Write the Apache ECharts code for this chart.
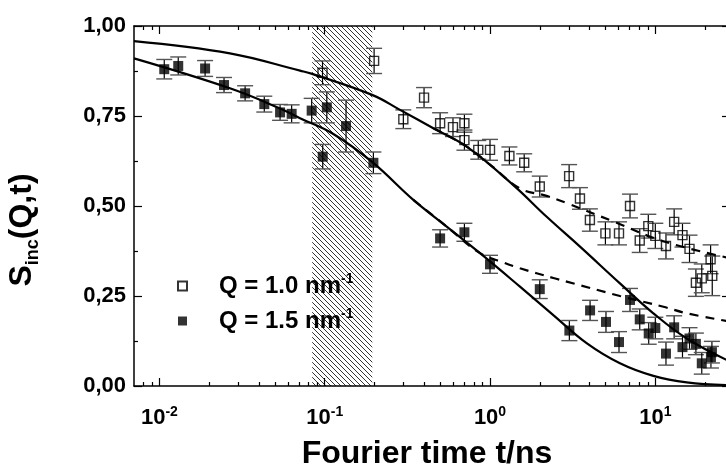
<!DOCTYPE html>
<html>
<head>
<meta charset="utf-8">
<script src="https://cdn.jsdelivr.net/npm/echarts@6/dist/echarts.min.js"></script>
<style>
html, body { margin: 0; background: #fff; }
#chart { width: 726px; height: 470px; }
</style>
</head>
<body>
<div id="chart"></div>
<script>
// Q = 1.0 nm^-1 (open squares)
const t1 = [0.097, 0.199, 0.299, 0.399, 0.499, 0.597, 0.70, 0.70, 0.849, 1.0, 1.31, 1.61, 2.0, 3.01, 3.5, 4.02, 4.99, 6.03, 7.03, 8.05, 9.07, 10.0, 11.6, 13.0, 14.6, 16.1, 17.6, 19.1, 21.6, 22.1];
const s1 = [0.870, 0.903, 0.741, 0.801, 0.730, 0.719, 0.730, 0.683, 0.656, 0.656, 0.639, 0.620, 0.554, 0.583, 0.521, 0.461, 0.424, 0.424, 0.500, 0.404, 0.444, 0.417, 0.389, 0.456, 0.419, 0.381, 0.287, 0.299, 0.352, 0.306];
const e1 = [0.033, 0.035, 0.026, 0.028, 0.029, 0.026, 0.025, 0.028, 0.026, 0.029, 0.025, 0.025, 0.029, 0.032, 0.030, 0.031, 0.032, 0.032, 0.033, 0.033, 0.033, 0.035, 0.036, 0.036, 0.033, 0.038, 0.038, 0.040, 0.040, 0.055];

// Q = 1.5 nm^-1 (filled squares)
const t2 = [0.0107, 0.0130, 0.0189, 0.0246, 0.0330, 0.0431, 0.0537, 0.0631, 0.0834, 0.0973, 0.103, 0.1346, 0.197, 0.499, 0.70, 1.0, 2.0, 3.02, 4.03, 5.03, 6.03, 7.03, 8.05, 9.12, 10.0, 11.6, 13.0, 14.6, 16.1, 17.6, 19.1, 21.7, 22.0];
const s2 = [0.880, 0.889, 0.882, 0.836, 0.813, 0.783, 0.760, 0.756, 0.765, 0.637, 0.774, 0.722, 0.620, 0.410, 0.427, 0.338, 0.269, 0.154, 0.210, 0.178, 0.122, 0.239, 0.185, 0.146, 0.161, 0.090, 0.163, 0.108, 0.132, 0.117, 0.063, 0.080, 0.094];
const e2 = [0.027, 0.025, 0.022, 0.021, 0.021, 0.022, 0.022, 0.025, 0.034, 0.034, 0.043, 0.072, 0.030, 0.024, 0.025, 0.025, 0.026, 0.028, 0.028, 0.029, 0.029, 0.032, 0.029, 0.030, 0.030, 0.032, 0.032, 0.030, 0.030, 0.030, 0.030, 0.030, 0.030];

// fit curves
const fitT1 = [0.00702, 0.0267, 0.0709, 0.084, 0.195, 0.2856, 0.454, 0.723, 1.383, 2.203, 3.503, 6.11, 9.73, 15.49, 28.3];
const fitS1 = [0.958, 0.924, 0.876, 0.867, 0.808, 0.767, 0.716, 0.665, 0.558, 0.470, 0.387, 0.285, 0.202, 0.132, 0.068];
const fitT2 = [0.00702, 0.0267, 0.0537, 0.0709, 0.1128, 0.195, 0.3437, 0.547, 0.870, 1.518, 2.415, 3.84, 6.11, 9.73, 15.49, 28.3];
const fitS2 = [0.910, 0.827, 0.771, 0.744, 0.700, 0.621, 0.517, 0.443, 0.369, 0.276, 0.197, 0.119, 0.063, 0.028, 0.010, 0.002];
const dashT1 = [0.454, 0.723, 1.0, 1.518, 2.2, 2.91, 5.57, 11.2, 28.3];
const dashS1 = [0.716, 0.665, 0.615, 0.549, 0.528, 0.508, 0.457, 0.402, 0.355];
const dashT2 = [0.3437, 0.547, 0.870, 1.204, 1.518, 2.415, 2.91, 6.11, 11.2, 15.5, 28.3];
const dashS2 = [0.517, 0.443, 0.369, 0.343, 0.327, 0.300, 0.290, 0.250, 0.220, 0.202, 0.179];

const hatchRange = [0.084, 0.194];
const xMin = 0.00702, xMax = 28.3;
const majorTicks = [0.01, 0.1, 1, 10];
const minorTicks = [0.008, 0.009, 0.02, 0.03, 0.04, 0.05, 0.06, 0.07, 0.08, 0.09,
  0.2, 0.3, 0.4, 0.5, 0.6, 0.7, 0.8, 0.9, 2, 3, 4, 5, 6, 7, 8, 9, 20];

const FONT = '"Liberation Sans", Arial, sans-serif';

function hatch() {
    const c = document.createElement('canvas');
    c.width = 5; c.height = 5;
    const ctx = c.getContext('2d');
    ctx.strokeStyle = '#000';
    ctx.lineWidth = 0.8;
    ctx.beginPath();
    ctx.moveTo(-1, -1); ctx.lineTo(6, 6);
    ctx.moveTo(-1, 4); ctx.lineTo(1, 6);
    ctx.moveTo(4, -1); ctx.lineTo(6, 1);
    ctx.stroke();
    return c;
}

const lg = v => Math.log10(v);

// tick-only axes in log space, series live on the log axis
function tickAxis(pos, vals, len, labels) {
    return {
        type: 'value', position: pos,
        min: lg(xMin), max: lg(xMax),
        axisLine: { show: false, onZero: false },
        splitLine: { show: false },
        axisTick: { show: true, inside: true, length: len, customValues: vals.map(lg),
            lineStyle: { color: '#000', width: 1.2 } },
        axisLabel: labels ? {
            show: true, customValues: vals.map(lg), margin: 19,
            formatter: v => '{b|10}{s|' + Math.round(v) + '}',
            rich: {
                b: { fontSize: 22, fontWeight: 'bold', fontFamily: FONT, color: '#000', lineHeight: 26 },
                s: { fontSize: 14, fontWeight: 'bold', fontFamily: FONT, color: '#000', verticalAlign: 'top', lineHeight: 12 }
            }
        } : { show: false }
    };
}

function errorBars(ts, ss, es) {
    return {
        type: 'custom',
        data: ts.map((t, i) => [t, ss[i], es[i]]),
        silent: true,
        z: 3,
        renderItem: (params, api) => {
            const x = api.value(0), y = api.value(1), e = api.value(2);
            const top = api.coord([x, y + e]);
            const bot = api.coord([x, y - e]);
            const hw = 8;
            const st = { stroke: '#000', lineWidth: 1.2 };
            const cap = { stroke: '#555', lineWidth: 1.4 };
            return {
                type: 'group',
                children: [
                    { type: 'line', shape: { x1: top[0], y1: top[1], x2: bot[0], y2: bot[1] }, style: st },
                    { type: 'line', shape: { x1: top[0] - hw, y1: top[1], x2: top[0] + hw, y2: top[1] }, style: cap },
                    { type: 'line', shape: { x1: bot[0] - hw, y1: bot[1], x2: bot[0] + hw, y2: bot[1] }, style: cap }
                ]
            };
        }
    };
}

function curve(ts, ss, dashed) {
    return {
        type: 'line', smooth: 0.4, symbol: 'none', silent: true, z: 4,
        data: ts.map((t, i) => [t, ss[i]]),
        lineStyle: { color: '#000', width: 2.2, type: dashed ? [9, 7] : 'solid' }
    };
}

const chart = echarts.init(document.getElementById('chart'));
const option = {
    backgroundColor: '#fff',
    animation: false,
    grid: { left: 134, top: 26, right: -4, bottom: 84, containLabel: false, outerBoundsMode: 'none' },
    legend: {
        orient: 'vertical', left: 177, top: 272, padding: 0,
        itemWidth: 9, itemHeight: 9, itemGap: 9,
        data: ['Q1', 'Q2'],
        formatter: n => n === 'Q1' ? '{g| }{a|Q = 1.0 nm}{s|-1}' : '{g| }{a|Q = 1.5 nm}{s|-1}',
        textStyle: {
            rich: {
                g: { width: 27 },
                a: { fontSize: 24, fontWeight: 'bold', fontFamily: FONT, color: '#000', lineHeight: 28 },
                s: { fontSize: 14, fontWeight: 'bold', fontFamily: FONT, color: '#000', verticalAlign: 'top', lineHeight: 8 }
            }
        }
    },
    xAxis: [
        {
            type: 'log', position: 'bottom', min: xMin, max: xMax,
            axisLine: { show: true, onZero: false, lineStyle: { color: '#000', width: 1.5 } },
            axisTick: { show: false }, axisLabel: { show: false }, splitLine: { show: false },
            name: 'Fourier time t/ns', nameLocation: 'middle', nameGap: 52,
            nameTextStyle: { fontSize: 32, fontWeight: 'bold', fontFamily: FONT, color: '#000', padding: [0, 10, 0, 0] }
        },
        tickAxis('bottom', majorTicks, 8, true),
        tickAxis('bottom', minorTicks, 4, false),
        Object.assign(tickAxis('top', majorTicks, 8, false),
            { axisLine: { show: true, onZero: false, lineStyle: { color: '#000', width: 1.5 } } }),
        tickAxis('top', minorTicks, 4, false)
    ],
    yAxis: [
        {
            type: 'value', position: 'left', min: 0, max: 1, interval: 0.25,
            axisLine: { show: true, onZero: false, lineStyle: { color: '#000', width: 1.5 } },
            axisTick: { show: true, inside: true, length: 8, lineStyle: { color: '#000', width: 1.2 } },
            minorTick: { show: true, splitNumber: 2, length: 4, lineStyle: { color: '#000', width: 1.2 } },
            splitLine: { show: false },
            axisLabel: {
                margin: 8, fontSize: 22, fontWeight: 'bold', fontFamily: FONT, color: '#000',
                formatter: v => v.toFixed(2).replace('.', ',')
            },
            name: '{m|S}{sub|inc}{m|(Q,t)}', nameLocation: 'middle', nameRotate: 90, nameGap: 92,
            nameTextStyle: {
                padding: [0, 48, 0, 0],
                rich: {
                    m: { fontSize: 32, fontWeight: 'bold', fontFamily: FONT, color: '#000', lineHeight: 40 },
                    sub: { fontSize: 18, fontWeight: 'bold', fontFamily: FONT, color: '#000', lineHeight: 18, verticalAlign: 'bottom' }
                }
            }
        },
        {
            type: 'value', position: 'right', min: 0, max: 1, interval: 0.25,
            axisLine: { show: true, onZero: false, lineStyle: { color: '#000', width: 1.5 } },
            axisTick: { show: true, inside: true, length: 8, lineStyle: { color: '#000', width: 1.2 } },
            minorTick: { show: true, splitNumber: 2, length: 4, lineStyle: { color: '#000', width: 1.2 } },
            splitLine: { show: false }, axisLabel: { show: false }
        }
    ],
    series: [
        {
            type: 'line', data: [], silent: true, z: 1,
            markArea: {
                silent: true,
                itemStyle: { color: { image: hatch(), repeat: 'repeat' } },
                data: [[{ xAxis: hatchRange[0] }, { xAxis: hatchRange[1] }]]
            }
        },
        errorBars(t1, s1, e1),
        errorBars(t2, s2, e2),
        curve(fitT1, fitS1, false),
        curve(fitT2, fitS2, false),
        curve(dashT1, dashS1, true),
        curve(dashT2, dashS2, true),
        {
            name: 'Q1', type: 'scatter', symbol: 'rect', symbolSize: 9, z: 5,
            data: t1.map((t, i) => [t, s1[i]]),
            itemStyle: { color: 'rgba(255,255,255,0)', borderColor: '#000', borderWidth: 1.4 }
        },
        {
            name: 'Q2', type: 'scatter', symbol: 'rect', symbolSize: 10, z: 5,
            data: t2.map((t, i) => [t, s2[i]]),
            itemStyle: { color: '#000' }
        }
    ]
};
chart.setOption(option);
window.addEventListener('resize', function () { chart.resize(); });
</script>
</body>
</html>
